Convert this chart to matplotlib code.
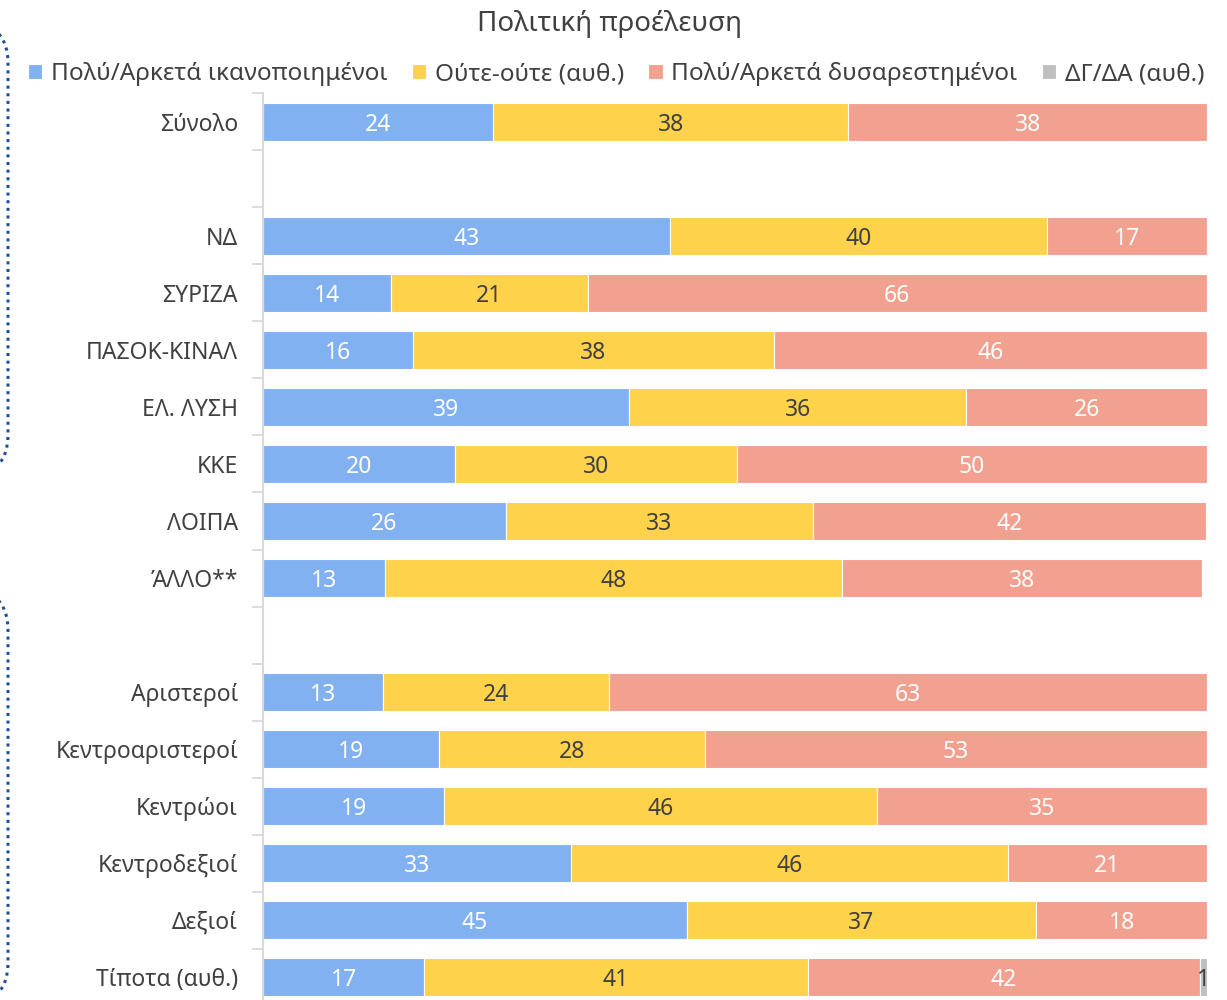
import numpy as np
import matplotlib.pyplot as plt
from matplotlib.patches import FancyBboxPatch

plt.rcParams['font.family'] = ['Noto Sans', 'DejaVu Sans']

# Categories (empty strings are spacer rows)
categories = ['Σύνολο', '', 'ΝΔ', 'ΣΥΡΙΖΑ', 'ΠΑΣΟΚ-ΚΙΝΑΛ', 'ΕΛ. ΛΥΣΗ', 'ΚΚΕ', 'ΛΟΙΠΑ', 'ΆΛΛΟ**', '',
              'Αριστεροί', 'Κεντροαριστεροί', 'Κεντρώοι', 'Κεντροδεξιοί', 'Δεξιοί', 'Τίποτα (αυθ.)']

satisfied = [24.4, np.nan, 43.1, 13.6, 15.9, 38.8, 20.3, 25.7, 12.9, np.nan, 12.7, 18.6, 19.2, 32.6, 44.9, 17.1]
neutral = [37.6, np.nan, 40.0, 20.8, 38.2, 35.7, 29.9, 32.6, 48.4, np.nan, 24.0, 28.2, 45.8, 46.3, 37.0, 40.6]
dissatisfied = [38.0, np.nan, 16.9, 65.6, 45.9, 25.6, 49.8, 41.6, 38.2, np.nan, 63.3, 53.2, 35.0, 21.1, 18.1, 41.6]
dkna = [0, np.nan, 0, 0, 0, 0, 0, 0, 0, np.nan, 0, 0, 0, 0, 0, 0.7]

series_names = ['Πολύ/Αρκετά ικανοποιημένοι', 'Ούτε-ούτε (αυθ.)', 'Πολύ/Αρκετά δυσαρεστημένοι', 'ΔΓ/ΔΑ (αυθ.)']
colors = ['#82B1F2', '#FFD24C', '#F2A08F', '#BFBFBF']
label_colors = ['white', '#404040', 'white', '#404040']

fig = plt.figure(figsize=(12.27, 10), dpi=100)
ax = fig.add_axes([263 / 1227, -5.5 / 1000, 944 / 1227, 912 / 1000])

y = np.arange(len(categories))
left = np.zeros(len(categories))
for name, vals, c, lc in zip(series_names, [satisfied, neutral, dissatisfied, dkna], colors, label_colors):
    vals = np.array(vals, dtype=float)
    v = np.nan_to_num(vals)
    ax.barh(y, v, left=left, height=0.67, color=c, edgecolor='white', linewidth=0.8, label=name)
    for yi, (l, w) in enumerate(zip(left, v)):
        if w > 0:
            ax.text(l + w / 2, yi, f'{w:.0f}', ha='center', va='center_baseline', color=lc, fontsize=16.5)
    left += v

ax.set_xlim(0, 100)
ax.set_ylim(len(categories) - 0.5, -0.5)
ax.set_yticks(y)
ax.set_yticklabels(categories, fontsize=16.5, color='#404040', va='center_baseline')
ax.set_yticks(np.arange(len(categories) + 1) - 0.5, minor=True)
ax.tick_params(axis='y', which='major', length=0, pad=18)
ax.tick_params(axis='y', which='minor', length=8, color='#D9D9D9', width=1.3)
ax.set_xticks([])
for s in ['top', 'right', 'bottom']:
    ax.spines[s].set_visible(False)
ax.spines['left'].set_color('#D9D9D9')
ax.spines['left'].set_linewidth(1.5)

fig.text(0.497, 0.979, 'Πολιτική προέλευση', ha='center', va='center_baseline', fontsize=20, color='#404040')
fig.legend(loc='center', bbox_to_anchor=(0.502, 0.926), ncol=4, frameon=False, fontsize=17.5,
           handlelength=0.6, handleheight=0.6, handletextpad=0.35, columnspacing=1.0,
           labelcolor='#404040')

# dotted brackets on the left edge
for top, bottom in [(18, 480), (585, 1008)]:
    box = FancyBboxPatch((-60 / 1227, 1 - bottom / 1000), 68 / 1227, (bottom - top) / 1000,
                         boxstyle='round,pad=0,rounding_size=0.045', transform=fig.transFigure,
                         fill=False, edgecolor='#1F4E9A', linestyle=(0, (1, 1.5)), linewidth=2.2,
                         clip_on=False)
    fig.patches.append(box)

plt.savefig('out.png', dpi=100)
